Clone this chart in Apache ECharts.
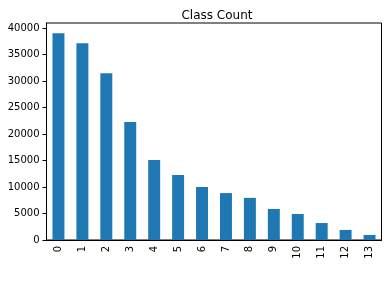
<!DOCTYPE html>
<html><head><meta charset="utf-8">
<script src="https://cdn.jsdelivr.net/npm/echarts@6/dist/echarts.min.js"></script>
<style>html,body{margin:0;padding:0;background:#fff}#c{width:391px;height:281px}</style>
</head><body><div id="c"></div>
<script>
const categories = ["0","1","2","3","4","5","6","7","8","9","10","11","12","13"];
const counts = [39000, 37150, 31450, 22250, 15100, 12250, 10000, 8850, 7950, 5850, 4900, 3200, 1900, 950];
const yTicks = [0, 5000, 10000, 15000, 20000, 25000, 30000, 35000, 40000];
const title = "Class Count";

const chart = echarts.init(document.getElementById('c'), null, {renderer: 'canvas'});
chart.setOption({
  animation: false,
  title: {text: title, left: 212, top: 5, textAlign: 'center',
    textStyle: {fontFamily: 'DejaVu Sans', fontSize: 12, fontWeight: 'normal', color: '#000'}},
  grid: {left: 46.5, right: 9.5, top: 23, bottom: 41, show: true, borderColor: '#000', borderWidth: 1, backgroundColor: 'transparent'},
  xAxis: {type: 'category', data: categories, boundaryGap: true,
    axisLine: {lineStyle: {color: '#000', width: 1}},
    axisTick: {alignWithLabel: true, length: 4, lineStyle: {color: '#000'}},
    axisLabel: {rotate: 90, interval: 0, color: '#000', fontFamily: 'DejaVu Sans', fontSize: 10, margin: 6}},
  yAxis: {type: 'value', min: 0, max: 40950,
    splitLine: {show: false},
    axisLine: {show: true, lineStyle: {color: '#000', width: 1}},
    axisTick: {show: true, length: 4, customValues: yTicks, lineStyle: {color: '#000'}},
    axisLabel: {customValues: yTicks, formatter: v => String(v), color: '#000', fontFamily: 'DejaVu Sans', fontSize: 10, margin: 7}},
  series: [{type: 'bar', data: counts, barWidth: '50%', itemStyle: {color: '#1f77b4'}}]
});
</script></body></html>
